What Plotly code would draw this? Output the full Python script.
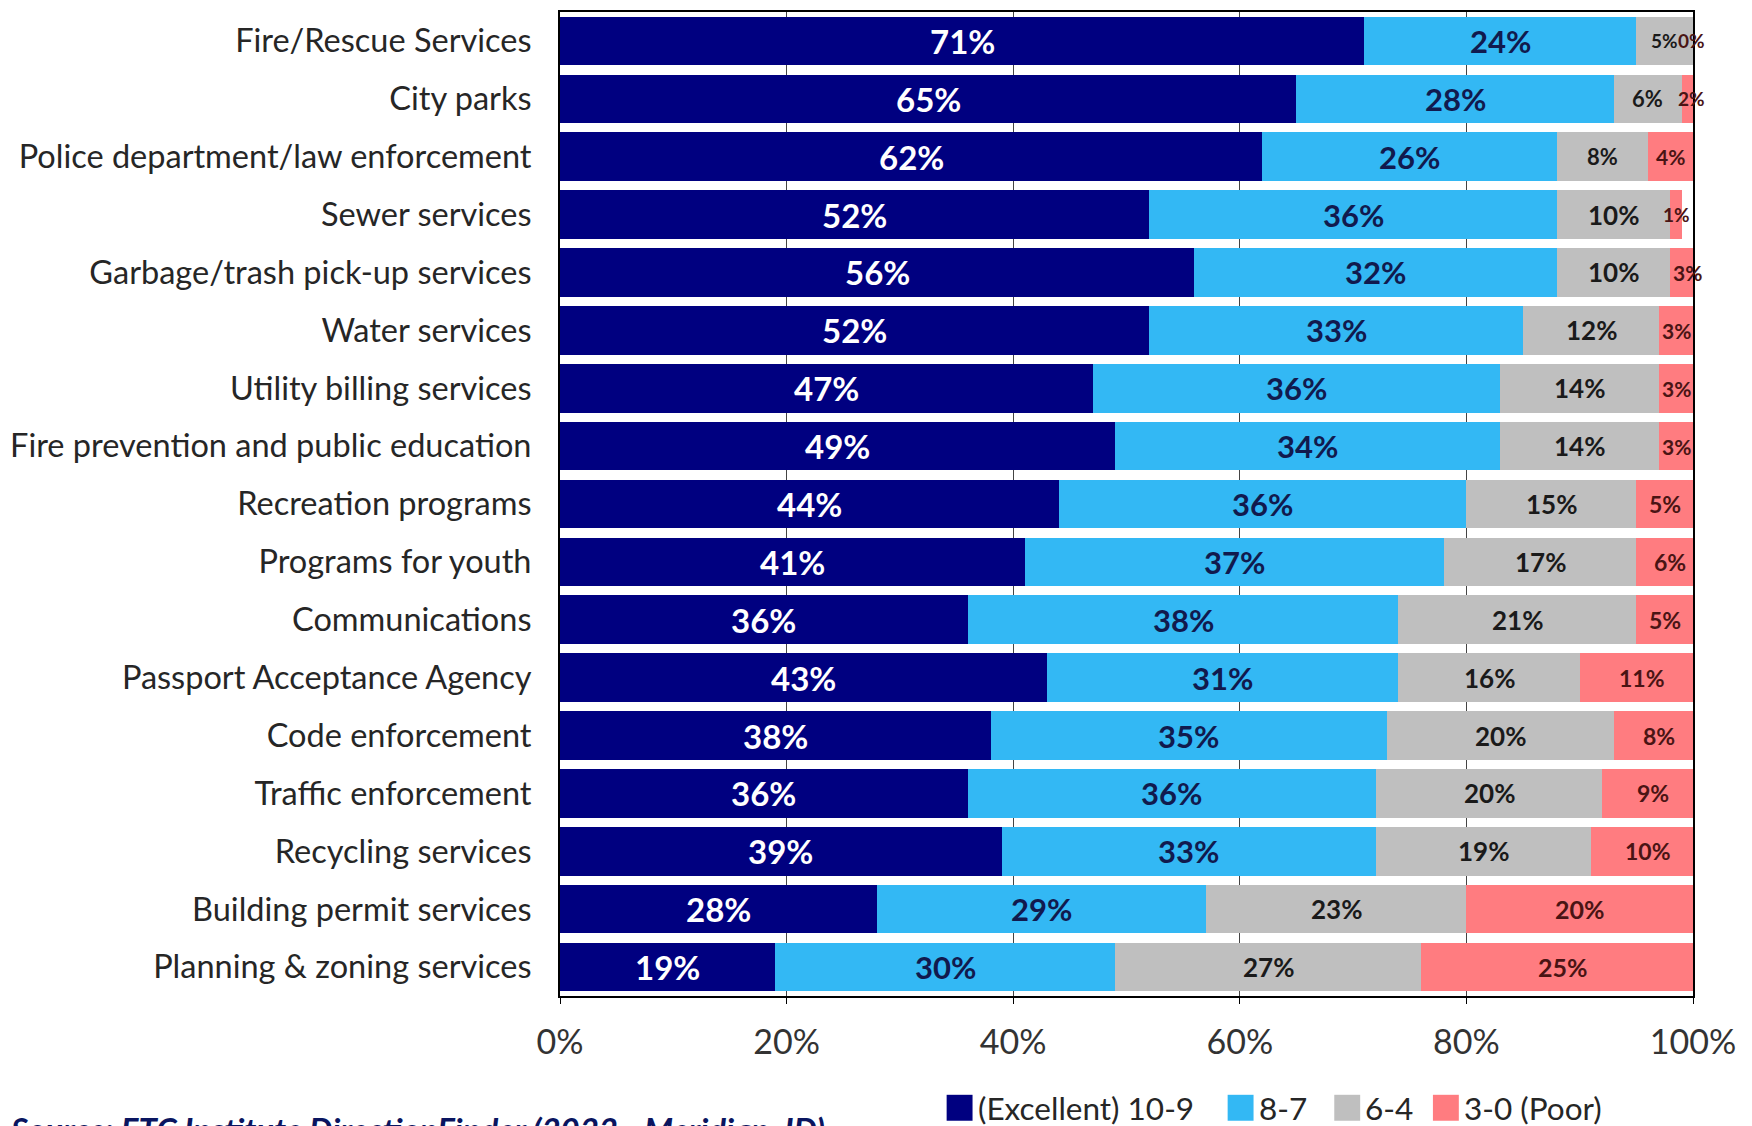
import plotly.graph_objects as go

# Satisfaction ratings by city service (percent of respondents)
services = [
    "Fire/Rescue Services",
    "City parks",
    "Police department/law enforcement",
    "Sewer services",
    "Garbage/trash pick-up services",
    "Water services",
    "Utility billing services",
    "Fire prevention and public education",
    "Recreation programs",
    "Programs for youth",
    "Communications",
    "Passport Acceptance Agency",
    "Code enforcement",
    "Traffic enforcement",
    "Recycling services",
    "Building permit services",
    "Planning & zoning services",
]
excellent = [71, 65, 62, 52, 56, 52, 47, 49, 44, 41, 36, 43, 38, 36, 39, 28, 19]
good      = [24, 28, 26, 36, 32, 33, 36, 34, 36, 37, 38, 31, 35, 36, 33, 29, 30]
neutral   = [5, 6, 8, 10, 10, 12, 14, 14, 15, 17, 21, 16, 20, 20, 19, 23, 27]
poor      = [0, 2, 4, 1, 3, 3, 3, 3, 5, 6, 5, 11, 8, 9, 10, 20, 25]

series_names = ["(Excellent) 10-9", "8-7", "6-4", "3-0 (Poor)"]
tick_vals = [0, 20, 40, 60, 80, 100]
tick_text = ["0%", "20%", "40%", "60%", "80%", "100%"]
source_note = "Source: ETC Institute DirectionFinder (2022 - Meridian, ID)"

series = [excellent, good, neutral, poor]
bar_colors = ["#000080", "#33B8F4", "#BFBFBF", "#FF7C80"]
label_colors = ["#FFFFFF", "#111A4E", "#1A1A1A", "#4A1414"]
FONT = "Lato"

# Page geometry (pixels) used to place the hand-built legend
W, H = 1752, 1126
M_L, M_R, M_T, M_B = 556, 59, 10, 130
PLOT_W = W - M_L - M_R
PLOT_H = H - M_T - M_B


def px_to_paper_x(px):
    return (px - M_L) / PLOT_W


def px_to_paper_y(py):
    return (H - M_B - py) / PLOT_H


def label_size(series_idx, v):
    if series_idx == 0:
        return 33
    if series_idx == 1:
        return 31
    if series_idx == 2:
        if v >= 10:
            return 26
        return 22 if v >= 6 else 19
    if v >= 20:
        return 25
    if v >= 5:
        return 23
    return 21 if v >= 3 else 19


fig = go.Figure()
for name, vals, col in zip(series_names, series, bar_colors):
    fig.add_trace(go.Bar(
        y=services, x=vals, orientation="h", name=name,
        marker=dict(color=col, line=dict(width=0)),
        showlegend=False,
        hovertemplate="%{y}: %{x}%<extra>" + name + "</extra>",
    ))

# Segment value labels, centred on each stacked segment
running = [0] * len(services)
for si, vals in enumerate(series):
    for i, v in enumerate(vals):
        centre = running[i] + v / 2
        running[i] += v
        fig.add_annotation(
            x=min(centre, 99.85), y=services[i], xref="x", yref="y",
            text=f"<b>{v}%</b>", showarrow=False,
            font=dict(family=FONT, size=label_size(si, v), color=label_colors[si]),
        )

# Legend: coloured squares followed by the series names
legend_left_px = [944, 1226, 1333, 1432]
legend_mid_py = 1108
sq = 26
for name, col, lx in zip(series_names, bar_colors, legend_left_px):
    fig.add_shape(
        type="rect", xref="paper", yref="paper",
        x0=px_to_paper_x(lx), x1=px_to_paper_x(lx + sq),
        y0=px_to_paper_y(legend_mid_py + sq / 2), y1=px_to_paper_y(legend_mid_py - sq / 2),
        fillcolor=col, line=dict(width=0),
    )
    fig.add_annotation(
        x=px_to_paper_x(lx + sq + 3), y=px_to_paper_y(legend_mid_py),
        xref="paper", yref="paper", xanchor="left", yanchor="middle",
        text=name, showarrow=False,
        font=dict(family=FONT, size=31.5, color="#262626"),
    )

fig.add_annotation(
    x=px_to_paper_x(2), y=px_to_paper_y(1107), xref="paper", yref="paper",
    xanchor="left", yanchor="top", showarrow=False,
    text=f"<b><i>{source_note}</i></b>",
    font=dict(family=FONT, size=33, color="#0A1560"),
)

fig.update_layout(
    width=W, height=H,
    margin=dict(l=M_L, r=M_R, t=M_T, b=M_B),
    barmode="stack", bargap=0.16,
    paper_bgcolor="white", plot_bgcolor="white",
    font=dict(family=FONT, color="#262626"),
    showlegend=False,
    xaxis=dict(
        range=[0, 100], tickvals=tick_vals, ticktext=tick_text,
        showline=True, linecolor="black", linewidth=2, mirror=True,
        ticks="outside", ticklen=6, tickcolor="black",
        showgrid=True, gridcolor="#444444", gridwidth=1,
        zeroline=False, ticklabelstandoff=9,
        tickfont=dict(family=FONT, size=34, color="#333333"),
    ),
    yaxis=dict(
        autorange="reversed", type="category",
        showline=True, linecolor="black", linewidth=2, mirror=True,
        ticks="", showgrid=False, ticklabelstandoff=20,
        tickfont=dict(family=FONT, size=32.5, color="#262626"),
    ),
)

fig.write_html("out.html")
